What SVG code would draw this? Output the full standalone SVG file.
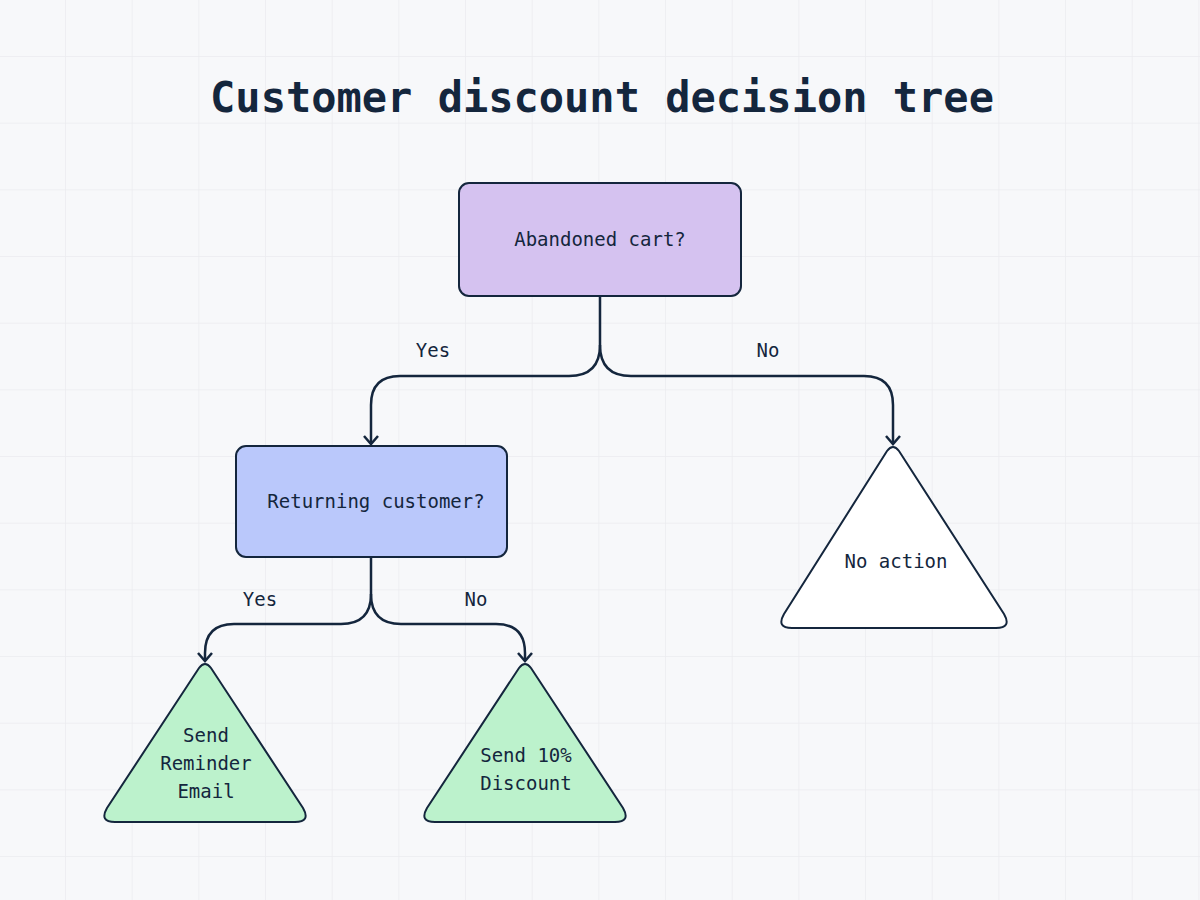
<svg xmlns="http://www.w3.org/2000/svg" width="1200" height="900" viewBox="0 0 1200 900">
<defs>
<pattern id="grid" x="65" y="56" width="66.67" height="66.67" patternUnits="userSpaceOnUse">
<path d="M0 0H66.67M0 0V66.67" fill="none" stroke="#ebecef" stroke-width="1.5"/>
</pattern>
<marker id="arr" viewBox="0 0 12 10" refX="6" refY="9" markerWidth="12" markerHeight="10" markerUnits="userSpaceOnUse" orient="auto-start-reverse">
<path d="M1 1L6 9L11 1" fill="none" stroke="#14263d" stroke-width="2" transform="rotate(0)"/>
</marker>
</defs>
<style>
.n{stroke:#14263d;stroke-width:2}
.t{font-family:"DejaVu Sans Mono",monospace;font-size:19px;fill:#14263d;text-anchor:middle}
.e{fill:none;stroke:#14263d;stroke-width:2.5}
</style>
<rect width="1200" height="900" fill="#f7f8fa"/>
<rect width="1200" height="900" fill="url(#grid)"/>
<text x="602" y="112" font-family="DejaVu Sans Mono,monospace" font-weight="bold" font-size="42" fill="#14263d" text-anchor="middle">Customer discount decision tree</text>
<g id="edges">
<path class="e" d="M600 296V345Q600 376 569 376H400Q371 376 371 405V444"/>
<path class="e" d="M600 345Q600 376 631 376H864Q893 376 893 405V444"/>
<path class="e" d="M371 557V594Q371 624 341 624H234Q205 624 205 653V661"/>
<path class="e" d="M371 594Q371 624 401 624H496Q525 624 525 653V661"/>
<path d="M364 436L371 444L378 436M886 436L893 444L900 436M198 653L205 661L212 653M518 653L525 661L532 653" fill="none" stroke="#14263d" stroke-width="2.5"/>
<text class="t" x="433" y="357">Yes</text>
<text class="t" x="768" y="357">No</text>
<text class="t" x="260" y="606">Yes</text>
<text class="t" x="476" y="606">No</text>
</g>
<g id="n1"><rect class="n" x="459" y="183" width="282" height="113" rx="10" fill="#d5c2f0"/><text class="t" x="600" y="246">Abandoned cart?</text></g>
<g id="n2"><rect class="n" x="236" y="446" width="271" height="111" rx="10" fill="#bac8fb"/><text class="t" x="376" y="508">Returning customer?</text></g>
<g id="n3"><path class="n" d="M887 451Q893 443 899 451L1004 614Q1012 628 996 628H792Q776 628 784 614Z" fill="#ffffff"/><text class="t" x="896" y="568">No action</text></g>
<g id="n4"><path class="n" d="M199 668Q205 660 211 668L303 808Q311 822 295 822H115Q99 822 107 808Z" fill="#bcf2cc"/><text class="t" x="206" y="742">Send</text><text class="t" x="206" y="770">Reminder</text><text class="t" x="206" y="798">Email</text></g>
<g id="n5"><path class="n" d="M519 668Q525 660 531 668L623 808Q631 822 615 822H435Q419 822 427 808Z" fill="#bcf2cc"/><text class="t" x="526" y="762">Send 10%</text><text class="t" x="526" y="790">Discount</text></g>
</svg>
